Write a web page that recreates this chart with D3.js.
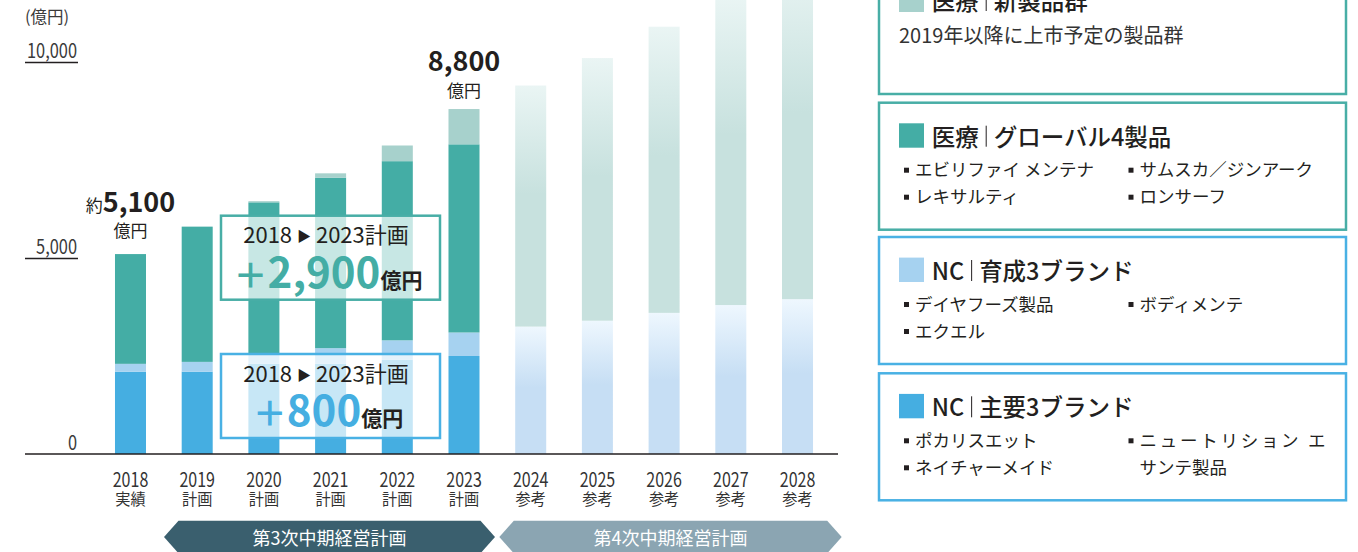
<!DOCTYPE html>
<html lang="ja">
<head>
<meta charset="utf-8">
<script src="https://cdn.jsdelivr.net/npm/d3@7"></script>
<style>
  html, body { margin: 0; padding: 0; background: #fff; }
  svg { display: block; font-family: "Noto Sans CJK JP", "Noto Sans", sans-serif; }
</style>
</head>
<body>
<div id="chart"></div>
<script>
// --- data (億円) ---
const years = ["2018", "2019", "2020", "2021", "2022", "2023", "2024", "2025", "2026", "2027", "2028"];
const yearNotes = ["実績", "計画", "計画", "計画", "計画", "計画", "参考", "参考", "参考", "参考", "参考"];

const planYears = ["2018", "2019", "2020", "2021", "2022", "2023"];
const ncMain    = [2100, 2100, 2300, 2300, 2400, 2500];
const ncGrowth  = [ 200,  250,  270,  400,  500,  600];
const medGlobal = [2800, 3450, 3850, 4350, 4570, 4800];
const medNew    = [   0,    0,   30,  110,  400,  900];

const refYears   = ["2024", "2025", "2026", "2027", "2028"];
const refNC      = [3250, 3400, 3600, 3800, 3950];
const refMedical = [6150, 6700, 7300, 7900, 8650];

const yTicks = [0, 5000, 10000];
const labelYears = ["2018", "2023"];
const labelPrefix = ["約", ""];

const periodNames = ["第3次中期経営計画", "第4次中期経営計画"];

const legendGroups = ["医療", "医療", "NC", "NC"];
const legendNames = ["新製品群", "グローバル4製品", "育成3ブランド", "主要3ブランド"];
const legendNote = "2019年以降に上市予定の製品群";
const legendItems = [
    [],
    ["エビリファイ メンテナ", "サムスカ／ジンアーク", "レキサルティ", "ロンサーフ"],
    ["デイヤフーズ製品", "ボディメンテ", "エクエル"],
    ["ポカリスエット", "ニュートリション エ\nサンテ製品", "ネイチャーメイド"]
];

const chart = (() => {
    const that = this;

    this.colors = {
        ncMain: "#45aee1", ncGrowth: "#a6d2f0", medGlobal: "#44ada5", medNew: "#a7d1cc",
        teal: "#48aea6", blue: "#49b1e4", text: "#231f20"
    };

    this.svg = d3.select("#chart").append("svg")
        .attr("width", 1358).attr("height", 552);

    this.x = d3.scaleBand().domain(years).range([79.3, 848.7]).padding(0.535);
    this.y = d3.scaleLinear().domain([0, 10000]).range([454, 62]);

    this.initGradients = () => {
        let defs = that.svg.append("defs");
        let grads = [
            { id: "gradMed", top: "#eaf5f4", solid: "#c7e1de", at: 0.45 },
            { id: "gradNC", top: "#eef7fe", solid: "#c6def4", at: 0.48 }
        ];
        grads.forEach(g => {
            let lg = defs.append("linearGradient").attr("id", g.id)
                .attr("x1", 0).attr("y1", 0).attr("x2", 0).attr("y2", 1);
            lg.append("stop").attr("offset", 0).attr("stop-color", g.top);
            lg.append("stop").attr("offset", g.at).attr("stop-color", g.solid);
            lg.append("stop").attr("offset", 1).attr("stop-color", g.solid);
        });
    }

    this.drawBars = () => {
        const x = that.x, y = that.y;
        let planRows = planYears.map((yr, i) => ({
            year: yr, ncMain: ncMain[i], ncGrowth: ncGrowth[i], medGlobal: medGlobal[i], medNew: medNew[i]
        }));
        let planStack = d3.stack().keys(["ncMain", "ncGrowth", "medGlobal", "medNew"])(planRows);

        that.svg.append("g").attr("class", "plan-bars")
            .selectAll("g").data(planStack).join("g")
            .attr("fill", d => that.colors[d.key])
            .selectAll("rect").data(d => d).join("rect")
            .attr("x", d => x(d.data.year))
            .attr("width", x.bandwidth())
            .attr("y", d => y(d[1]))
            .attr("height", d => y(d[0]) - y(d[1]));

        let refRows = refYears.map((yr, i) => ({ year: yr, nc: refNC[i], med: refMedical[i] }));
        let refStack = d3.stack().keys(["nc", "med"])(refRows);
        let refFill = { nc: "url(#gradNC)", med: "url(#gradMed)" };

        that.svg.append("g").attr("class", "ref-bars")
            .selectAll("g").data(refStack).join("g")
            .attr("fill", d => refFill[d.key])
            .selectAll("rect").data(d => d).join("rect")
            .attr("x", d => x(d.data.year))
            .attr("width", x.bandwidth())
            .attr("y", d => y(d[1]))
            .attr("height", d => y(d[0]) - y(d[1]));
    }

    this.drawAxes = () => {
        const x = that.x, y = that.y;

        // y axis, labels sit on short underlines
        let yAxis = that.svg.append("g").attr("transform", "translate(77,0)")
            .call(d3.axisLeft(y).tickValues(yTicks).tickSize(0).tickFormat(d3.format(",")));
        yAxis.attr("font-family", null).attr("font-size", null);
        yAxis.select(".domain").remove();
        yAxis.selectAll(".tick text")
            .attr("x", 0).attr("y", -5).attr("dy", null)
            .attr("text-anchor", "end")
            .attr("transform", "scale(0.82,1)")
            .attr("fill", "#3a3a3a")
            .style("font-size", "20px");
        yAxis.selectAll(".tick").filter(d => d > 0)
            .append("line")
            .attr("x1", -52).attr("x2", 1)
            .attr("stroke", that.colors.text).attr("stroke-width", 1.3);

        that.svg.append("text")
            .attr("x", 25).attr("y", 23)
            .attr("fill", "#3a3a3a")
            .style("font-size", "16.5px")
            .text("(億円)");

        that.svg.append("line")
            .attr("x1", 25).attr("x2", 838)
            .attr("y1", y(0)).attr("y2", y(0))
            .attr("stroke", that.colors.text).attr("stroke-width", 1.5);

        // x axis: year + note
        let xAxis = that.svg.append("g").attr("transform", "translate(0," + y(0) + ")")
            .call(d3.axisBottom(x).tickSize(0));
        xAxis.attr("font-family", null).attr("font-size", null);
        xAxis.select(".domain").remove();
        xAxis.selectAll(".tick text")
            .attr("y", 33.5).attr("dy", null)
            .attr("transform", "scale(0.8,1)")
            .attr("fill", "#333")
            .style("font-size", "20px");
        xAxis.selectAll(".tick").append("text")
            .attr("y", 51.5)
            .attr("text-anchor", "middle")
            .attr("transform", "scale(0.95,1)")
            .attr("fill", "#333")
            .style("font-size", "16px")
            .text((d, i) => yearNotes[i]);
    }

    this.drawTotals = () => {
        const x = that.x, y = that.y;
        let numOffset = [42, 38], unitOffset = [17, 12];
        labelYears.forEach((yr, i) => {
            let k = planYears.indexOf(yr);
            let total = ncMain[k] + ncGrowth[k] + medGlobal[k] + medNew[k];
            let cx = x(yr) + x.bandwidth() / 2;
            let t = that.svg.append("text")
                .attr("x", cx).attr("y", y(total) - numOffset[i])
                .attr("text-anchor", "middle").attr("fill", that.colors.text);
            if (labelPrefix[i]) t.append("tspan").style("font-size", "17px").text(labelPrefix[i]);
            t.append("tspan").style("font-size", "27px").style("font-weight", 700)
                .text(d3.format(",")(total));
            that.svg.append("text")
                .attr("x", cx).attr("y", y(total) - unitOffset[i])
                .attr("text-anchor", "middle").attr("fill", that.colors.text)
                .style("font-size", "17px")
                .text("億円");
        });
    }

    this.drawCallouts = () => {
        let a = planYears.indexOf("2018"), b = planYears.indexOf("2023");
        let medDiff = (medGlobal[b] + medNew[b]) - (medGlobal[a] + medNew[a]);
        let ncDiff = (ncMain[b] + ncGrowth[b]) - (ncMain[a] + ncGrowth[a]);
        let boxes = [
            { top: 215.7, stroke: that.colors.teal, color: "#44ada5", value: medDiff },
            { top: 354, stroke: that.colors.blue, color: "#45aee1", value: ncDiff }
        ];
        boxes.forEach(bx => {
            let g = that.svg.append("g");
            g.append("rect")
                .attr("x", 221).attr("y", bx.top)
                .attr("width", 219).attr("height", 84)
                .attr("fill", "#fff").attr("fill-opacity", 0.7)
                .attr("stroke", bx.stroke).attr("stroke-width", 2.5);
            let h = g.append("text")
                .attr("x", 326).attr("y", bx.top + 27.5)
                .attr("text-anchor", "middle").attr("fill", that.colors.text)
                .style("font-size", "22px");
            h.append("tspan").text(planYears[a] + " ");
            h.append("tspan").style("font-size", "14px").attr("dy", -2).text("▶");
            h.append("tspan").attr("dy", 2).text(" " + planYears[b] + "計画");
            let v = g.append("text")
                .attr("x", 328).attr("y", bx.top + 72)
                .attr("text-anchor", "middle").style("font-weight", 700);
            v.append("tspan").attr("fill", bx.color).style("font-size", "34px").text("＋");
            v.append("tspan").attr("fill", bx.color).style("font-size", "42px").text(d3.format(",")(bx.value));
            v.append("tspan").attr("fill", that.colors.text).style("font-size", "21px").text("億円");
        });
    }

    this.drawPeriods = () => {
        let bands = [
            { x0: 164, x1: 495, fill: "#3a5f6e" },
            { x0: 499.3, x1: 841.7, fill: "#8ba5b2" }
        ];
        bands.forEach((p, i) => {
            let top = 520.7, mid = 537, bot = 553.3, ind = 14.5;
            let pts = [[p.x0, mid], [p.x0 + ind, top], [p.x1 - ind, top], [p.x1, mid], [p.x1 - ind, bot], [p.x0 + ind, bot]];
            that.svg.append("polygon")
                .attr("points", pts.map(d => d.join(",")).join(" "))
                .attr("fill", p.fill);
            that.svg.append("text")
                .attr("x", (p.x0 + p.x1) / 2).attr("y", 545)
                .attr("text-anchor", "middle").attr("fill", "#fff")
                .style("font-size", "18px")
                .text(periodNames[i]);
        });
    }

    this.drawLegend = () => {
        let tops = [-33, 102.7, 237, 373.3];
        let swatch = [that.colors.medNew, that.colors.medGlobal, that.colors.ncGrowth, that.colors.ncMain];
        let border = [that.colors.teal, that.colors.teal, that.colors.blue, that.colors.blue];
        let colX = [[904, 915], [1128.5, 1139.5]];

        tops.forEach((top, i) => {
            let g = that.svg.append("g").attr("transform", "translate(0," + top + ")");
            g.append("rect")
                .attr("x", 879).attr("y", 0).attr("width", 467).attr("height", 127)
                .attr("fill", "none").attr("stroke", border[i]).attr("stroke-width", 2.5);
            g.append("rect")
                .attr("x", 899).attr("y", 20.6).attr("width", 25).attr("height", 24.4)
                .attr("fill", swatch[i]);

            let t1 = g.append("text")
                .attr("x", 931.7).attr("y", 43)
                .attr("fill", that.colors.text)
                .style("font-size", "23.5px").style("font-weight", 500)
                .text(legendGroups[i]);
            let w = t1.node().getComputedTextLength();
            g.append("line")
                .attr("x1", 931.7 + w + 7.5).attr("x2", 931.7 + w + 7.5)
                .attr("y1", 23).attr("y2", 44)
                .attr("stroke", that.colors.text).attr("stroke-width", 1);
            g.append("text")
                .attr("x", 931.7 + w + 15).attr("y", 43)
                .attr("fill", that.colors.text)
                .style("font-size", "23.5px").style("font-weight", 500)
                .text(legendNames[i]);

            if (i == 0) {
                g.append("text")
                    .attr("x", 899).attr("y", 76)
                    .attr("fill", "#333")
                    .style("font-size", "20px")
                    .text(legendNote);
            }

            legendItems[i].forEach((item, j) => {
                let col = j % 2, row = Math.floor(j / 2);
                let by = 73.5 + row * 27;
                g.append("rect")
                    .attr("x", colX[col][0]).attr("y", by - 8.5)
                    .attr("width", 5).attr("height", 5)
                    .attr("fill", that.colors.text);
                item.split("\n").forEach((line, k) => {
                    let tx = g.append("text")
                        .attr("x", colX[col][1]).attr("y", by + k * 27)
                        .attr("fill", that.colors.text)
                        .style("font-size", "17.5px")
                        .text(line);
                    if (k == 0 && item.indexOf("\n") > 0) {
                        tx.attr("textLength", 186).attr("lengthAdjust", "spacing");
                    }
                });
            });
        });
    }

    this.initGradients();
    this.drawBars();
    this.drawAxes();
    this.drawTotals();
    this.drawCallouts();
    this.drawPeriods();
    this.drawLegend();

    return this;
}).call({});
</script>
</body>
</html>
